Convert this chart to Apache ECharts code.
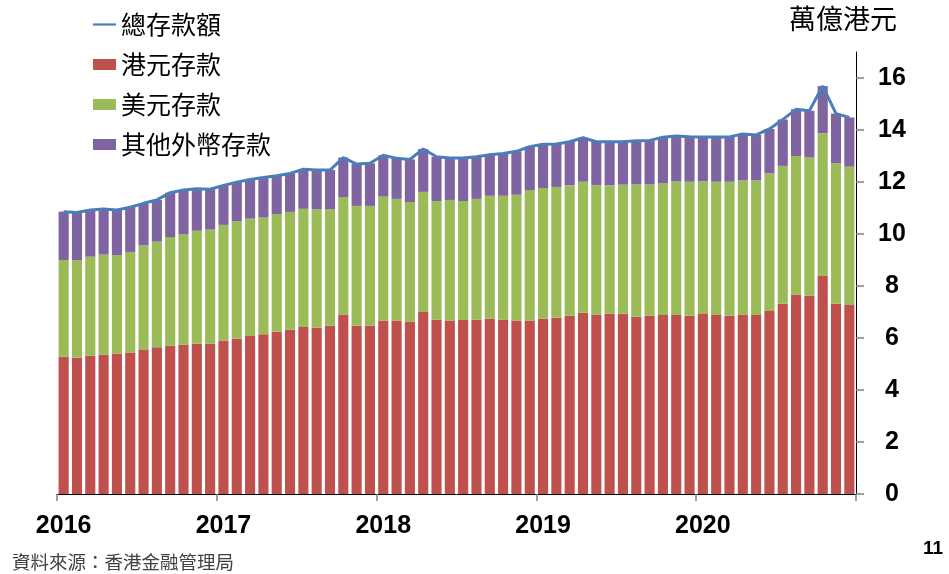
<!DOCTYPE html>
<html>
<head>
<meta charset="utf-8">
<script src="https://cdn.jsdelivr.net/npm/echarts@6/dist/echarts.min.js"></script>
<style>
html,body{margin:0;padding:0;background:#fff;}
#chart{width:949px;height:574px;}
</style>
</head>
<body>
<div id="chart"></div>
<script>
// Monthly, Jan 2016 – Dec 2020 (trillion HKD)
const years = ['2016', '2017', '2018', '2019', '2020'];
const yTicks = [0, 2, 4, 6, 8, 10, 12, 14, 16];
const seriesNames = ['總存款額', '港元存款', '美元存款', '其他外幣存款'];

const hkdDeposits = [
  5.28, 5.24, 5.32, 5.36, 5.40, 5.44, 5.54, 5.64, 5.70, 5.74, 5.78, 5.78,
  5.90, 5.97, 6.08, 6.14, 6.24, 6.32, 6.42, 6.40, 6.47, 6.90, 6.47, 6.47,
  6.67, 6.67, 6.63, 7.00, 6.71, 6.67, 6.69, 6.71, 6.74, 6.71, 6.67, 6.67,
  6.74, 6.78, 6.86, 6.97, 6.90, 6.93, 6.93, 6.82, 6.86, 6.88, 6.88, 6.86,
  6.92, 6.88, 6.86, 6.90, 6.88, 7.04, 7.32, 7.67, 7.63, 8.38, 7.32, 7.27
];
const usdDeposits = [
  3.72, 3.76, 3.81, 3.85, 3.78, 3.87, 4.02, 4.07, 4.18, 4.25, 4.35, 4.39,
  4.45, 4.52, 4.51, 4.50, 4.53, 4.53, 4.55, 4.55, 4.48, 4.51, 4.61, 4.61,
  4.77, 4.68, 4.60, 4.62, 4.56, 4.64, 4.58, 4.64, 4.73, 4.76, 4.84, 5.02,
  5.03, 5.03, 5.01, 5.04, 4.97, 4.94, 4.97, 5.09, 5.05, 5.08, 5.14, 5.15,
  5.11, 5.13, 5.15, 5.16, 5.18, 5.29, 5.30, 5.33, 5.32, 5.49, 5.40, 5.32
];
const otherFxDeposits = [
  1.86, 1.83, 1.79, 1.75, 1.74, 1.72, 1.62, 1.60, 1.71, 1.70, 1.61, 1.55,
  1.52, 1.50, 1.51, 1.53, 1.47, 1.48, 1.52, 1.51, 1.51, 1.53, 1.61, 1.64,
  1.59, 1.56, 1.64, 1.65, 1.70, 1.61, 1.65, 1.62, 1.58, 1.63, 1.67, 1.67,
  1.68, 1.65, 1.68, 1.69, 1.68, 1.68, 1.65, 1.68, 1.69, 1.76, 1.75, 1.73,
  1.70, 1.72, 1.72, 1.79, 1.75, 1.71, 1.78, 1.80, 1.79, 1.82, 1.91, 1.89
];
const totalDeposits = [
  10.86, 10.83, 10.92, 10.96, 10.92, 11.03, 11.18, 11.31, 11.59, 11.69, 11.74, 11.72,
  11.87, 11.99, 12.10, 12.17, 12.24, 12.33, 12.49, 12.46, 12.46, 12.94, 12.69, 12.72,
  13.03, 12.91, 12.87, 13.27, 12.97, 12.92, 12.92, 12.97, 13.05, 13.10, 13.18, 13.36,
  13.45, 13.46, 13.55, 13.70, 13.55, 13.55, 13.55, 13.59, 13.60, 13.72, 13.77, 13.74,
  13.73, 13.73, 13.73, 13.85, 13.81, 14.04, 14.40, 14.80, 14.74, 15.69, 14.63, 14.48
];

const months = [];
years.forEach(y => { for (let m = 1; m <= 12; m++) months.push(y + '-' + (m < 10 ? '0' + m : m)); });

const CJK = '"Noto Sans CJK TC", "Noto Sans CJK SC", sans-serif';
const NUM = '"Liberation Sans", Arial, sans-serif';

const chart = echarts.init(document.getElementById('chart'), null, { renderer: 'canvas' });
chart.setOption({
  animation: false,
  backgroundColor: '#ffffff',
  grid: { left: 57, right: 93, top: 52, bottom: 80, containLabel: false },
  legend: {
    orient: 'vertical',
    left: 93,
    top: 12,
    padding: 0,
    itemWidth: 23,
    itemHeight: 11,
    itemGap: 15,
    symbolKeepAspect: true,
    textStyle: { fontFamily: CJK, fontSize: 25, color: '#000' },
    data: [
      { name: seriesNames[0], icon: 'path://M0,0 L230,0 L230,22 L0,22 Z' },
      { name: seriesNames[1], icon: 'rect' },
      { name: seriesNames[2], icon: 'rect' },
      { name: seriesNames[3], icon: 'rect' }
    ]
  },
  xAxis: {
    type: 'category',
    data: months,
    boundaryGap: true,
    axisLine: { show: true, lineStyle: { color: '#000', width: 1 } },
    axisTick: {
      show: true,
      alignWithLabel: false,
      interval: (i) => i % 12 === 0,
      length: 7,
      lineStyle: { color: '#808080', width: 1.5 }
    },
    axisLabel: {
      interval: (i) => i % 12 === 0,
      formatter: (v) => v.slice(0, 4),
      margin: 20,
      fontFamily: NUM,
      fontWeight: 'bold',
      fontSize: 25,
      color: '#000'
    },
    splitLine: { show: false }
  },
  yAxis: {
    type: 'value',
    position: 'right',
    min: 0,
    max: 17,
    interval: 2,
    axisLine: { show: true, lineStyle: { color: '#000', width: 1 } },
    axisTick: {
      show: true,
      inside: false,
      length: 8,
      customValues: yTicks,
      lineStyle: { color: '#808080', width: 1.5 }
    },
    axisLabel: {
      customValues: yTicks,
      align: 'center',
      margin: 36,
      fontFamily: NUM,
      fontWeight: 'bold',
      fontSize: 25,
      color: '#000'
    },
    splitLine: { show: false }
  },
  series: [
    {
      name: seriesNames[1], type: 'bar', stack: 'dep', data: hkdDeposits,
      barWidth: '76%',
      itemStyle: { color: '#C0504D' }
    },
    {
      name: seriesNames[2], type: 'bar', stack: 'dep', data: usdDeposits,
      barWidth: '76%',
      itemStyle: { color: '#9BBB59' }
    },
    {
      name: seriesNames[3], type: 'bar', stack: 'dep', data: otherFxDeposits,
      barWidth: '76%',
      itemStyle: { color: '#8064A2' }
    },
    {
      name: seriesNames[0], type: 'line', data: totalDeposits,
      symbol: 'none', showSymbol: false, z: 10,
      lineStyle: { color: '#4A7EBB', width: 3 },
      itemStyle: { color: '#4A7EBB' }
    }
  ],
  graphic: [
    {
      type: 'text', left: 789, top: 5,
      style: { text: '萬億港元', fontFamily: CJK, fontSize: 27, fill: '#000' }
    },
    {
      type: 'text', left: 12, top: 553,
      style: { text: '資料來源：香港金融管理局', fontFamily: CJK, fontSize: 18.5, fill: '#404040' }
    },
    {
      type: 'text', left: 923, top: 539,
      style: { text: '11', fontFamily: NUM, fontWeight: 'bold', fontSize: 19, fill: '#000' }
    }
  ]
});
</script>
</body>
</html>
